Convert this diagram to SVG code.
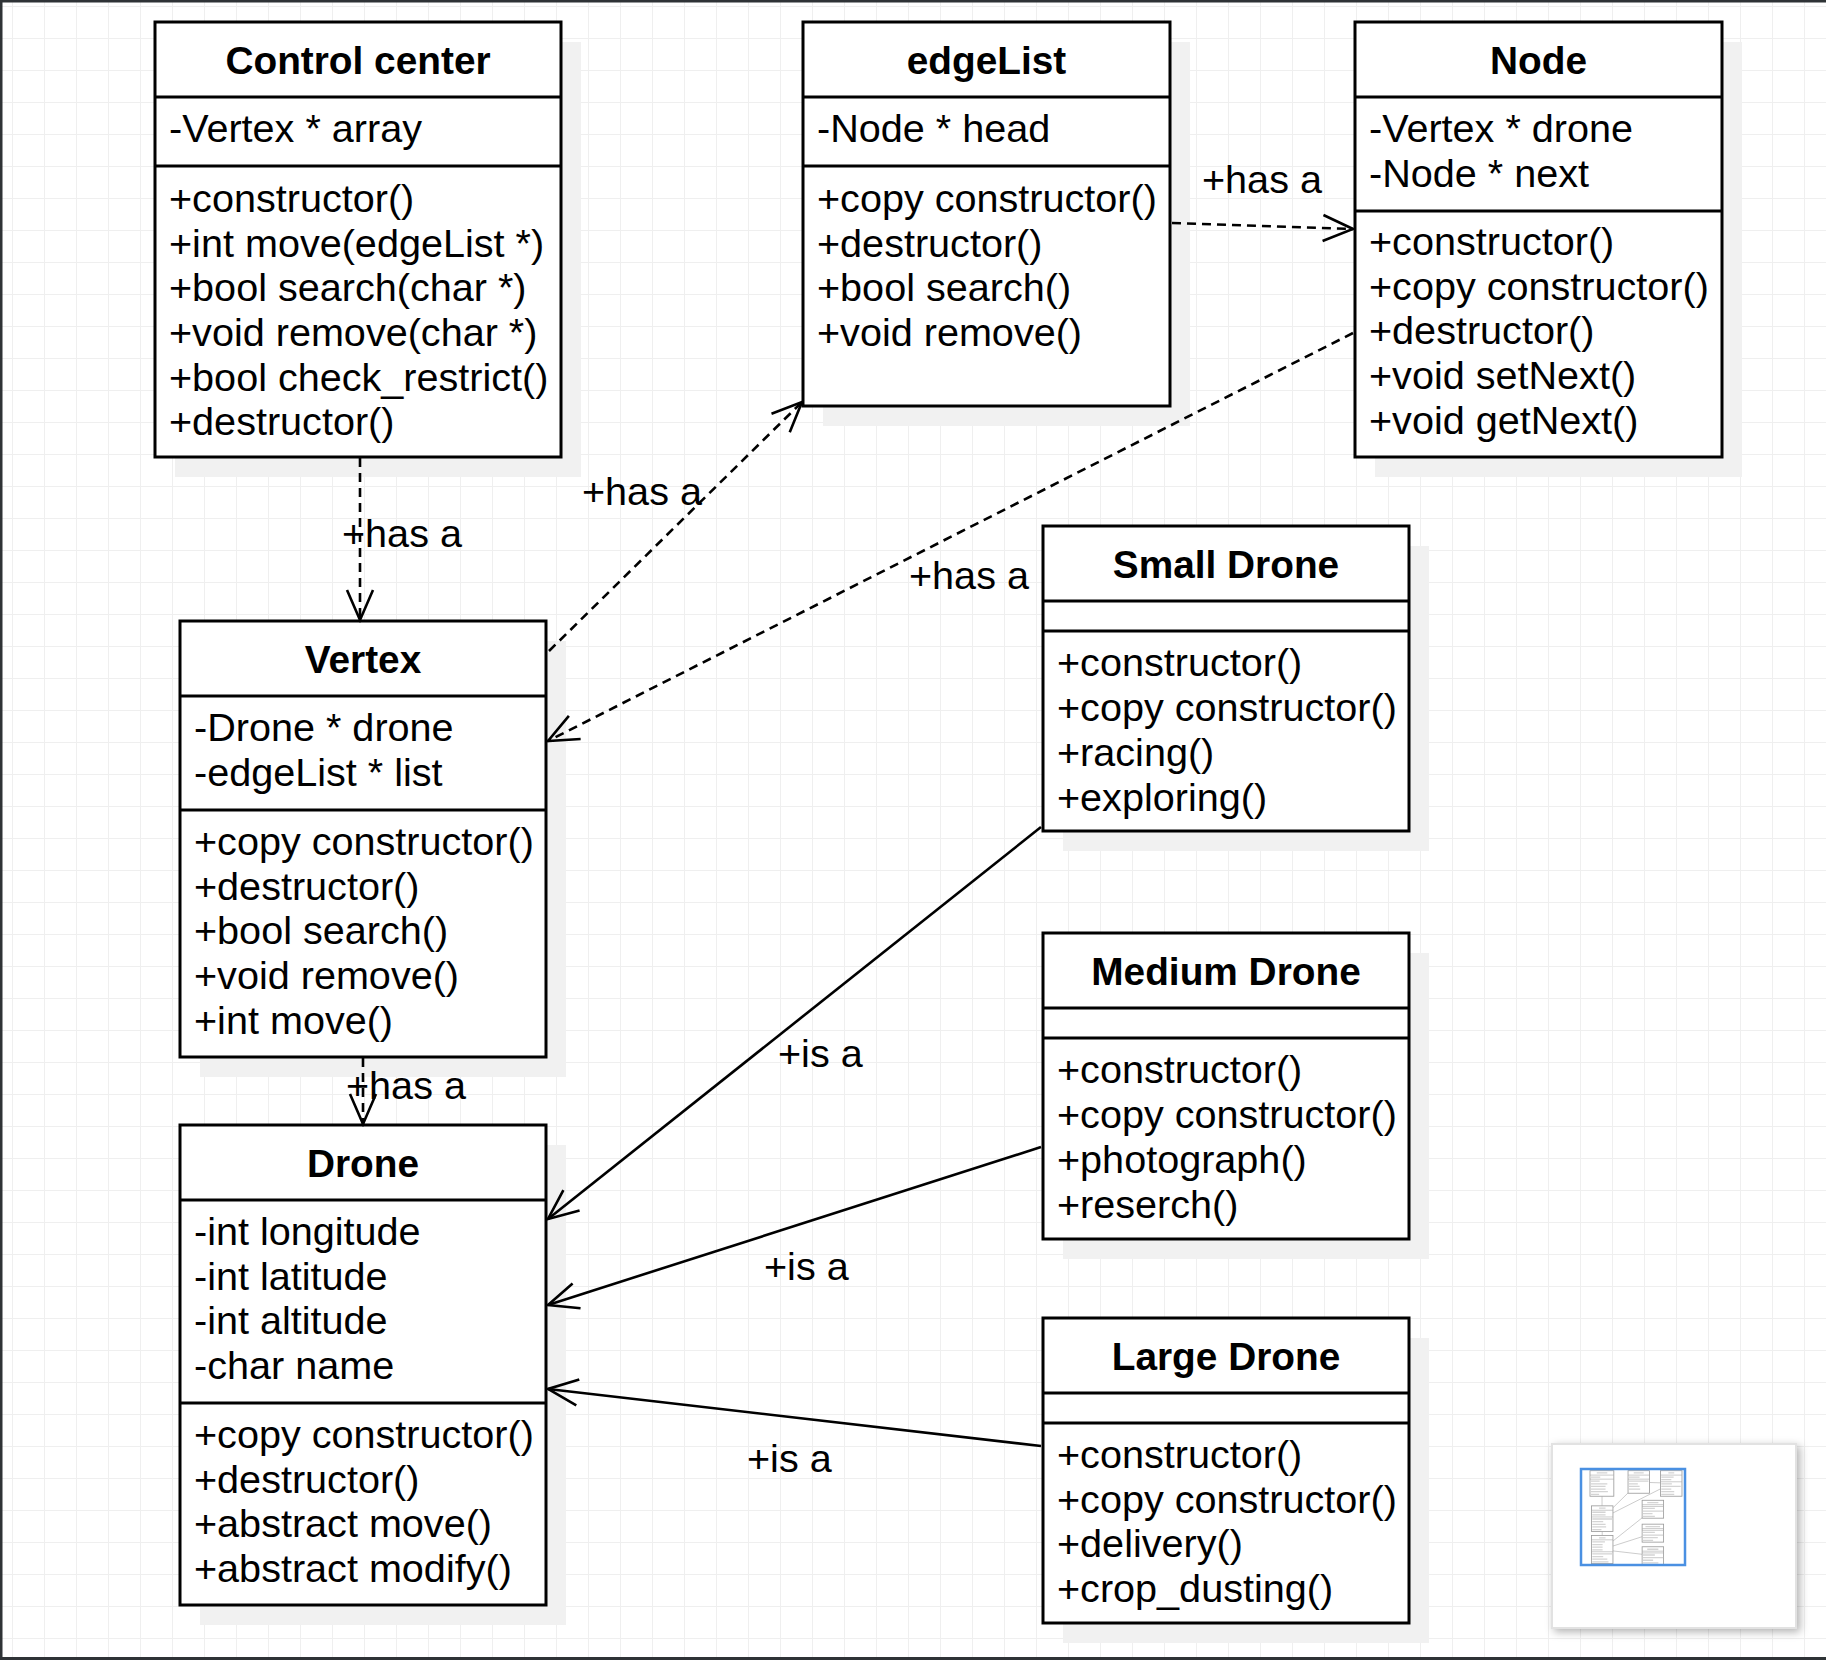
<svg xmlns="http://www.w3.org/2000/svg" width="1826" height="1660" viewBox="0 0 1826 1660">
<defs>
<style>
.shadow{fill:#f1f1f1}
.box{fill:#fff;stroke:#000;stroke-width:3}
.dv{stroke:#000;stroke-width:3}
.t{font-family:"Liberation Sans",Arial,Helvetica,sans-serif;font-size:39.6px;fill:#000}
.ttl{font-weight:bold;text-anchor:middle;font-size:38.8px}
.conn{fill:none;stroke:#000;stroke-width:2.6}
.dash{stroke-dasharray:9 6}
.tb{fill:#fff;stroke:#9a9a9a;stroke-width:14}
.tl{stroke:#a8a8a8;stroke-width:10;fill:none}
.tx{stroke:#d4d4d4;stroke-width:22}
</style>
<pattern id="grid" x="12" y="6" width="32" height="32" patternUnits="userSpaceOnUse">
<path d="M0.5 0V32M0 0.5H32" fill="none" stroke="#efefef" stroke-width="1"/>
</pattern>
<marker id="open" viewBox="-34 -16 37 32" refX="0" refY="0" markerWidth="37" markerHeight="32" markerUnits="userSpaceOnUse" orient="auto">
<path d="M-30 -13L0 0L-30 13" fill="none" stroke="#000" stroke-width="2.6" stroke-dasharray="none"/>
</marker>
<filter id="ps" x="-10%" y="-10%" width="130%" height="130%">
<feDropShadow dx="3" dy="3" stdDeviation="4" flood-color="#000" flood-opacity="0.3"/>
</filter>
</defs>

<rect width="1826" height="1660" fill="#fff"/>
<rect width="1826" height="1660" fill="url(#grid)"/>

<g id="node-control-center">
<rect class="shadow" x="175" y="42" width="406" height="435"/>
<rect class="box" x="155" y="22" width="406" height="435"/>
<line class="dv" x1="155" y1="97" x2="561" y2="97"/>
<line class="dv" x1="155" y1="166" x2="561" y2="166"/>
<text class="t ttl" x="358" y="74">Control center</text>
<text class="t" x="169" y="142">-Vertex * array</text>
<text class="t" x="169" y="212">+constructor()</text>
<text class="t" x="169" y="257">+int move(edgeList *)</text>
<text class="t" x="169" y="301">+bool search(char *)</text>
<text class="t" x="169" y="346">+void remove(char *)</text>
<text class="t" x="169" y="391">+bool check_restrict()</text>
<text class="t" x="169" y="435">+destructor()</text>
</g>

<g id="node-edgelist">
<rect class="shadow" x="823" y="42" width="367" height="384"/>
<rect class="box" x="803" y="22" width="367" height="384"/>
<line class="dv" x1="803" y1="97" x2="1170" y2="97"/>
<line class="dv" x1="803" y1="166" x2="1170" y2="166"/>
<text class="t ttl" x="986.5" y="74">edgeList</text>
<text class="t" x="817" y="142">-Node * head</text>
<text class="t" x="817" y="212">+copy constructor()</text>
<text class="t" x="817" y="257">+destructor()</text>
<text class="t" x="817" y="301">+bool search()</text>
<text class="t" x="817" y="346">+void remove()</text>
</g>

<g id="node-node">
<rect class="shadow" x="1375" y="42" width="367" height="435"/>
<rect class="box" x="1355" y="22" width="367" height="435"/>
<line class="dv" x1="1355" y1="97" x2="1722" y2="97"/>
<line class="dv" x1="1355" y1="211" x2="1722" y2="211"/>
<text class="t ttl" x="1538.5" y="74">Node</text>
<text class="t" x="1369" y="142">-Vertex * drone</text>
<text class="t" x="1369" y="187">-Node * next</text>
<text class="t" x="1369" y="255">+constructor()</text>
<text class="t" x="1369" y="300">+copy constructor()</text>
<text class="t" x="1369" y="344">+destructor()</text>
<text class="t" x="1369" y="389">+void setNext()</text>
<text class="t" x="1369" y="434">+void getNext()</text>
</g>

<g id="node-vertex">
<rect class="shadow" x="200" y="641" width="366" height="436"/>
<rect class="box" x="180" y="621" width="366" height="436"/>
<line class="dv" x1="180" y1="696" x2="546" y2="696"/>
<line class="dv" x1="180" y1="810" x2="546" y2="810"/>
<text class="t ttl" x="363" y="673">Vertex</text>
<text class="t" x="194" y="741">-Drone * drone</text>
<text class="t" x="194" y="786">-edgeList * list</text>
<text class="t" x="194" y="855">+copy constructor()</text>
<text class="t" x="194" y="900">+destructor()</text>
<text class="t" x="194" y="944">+bool search()</text>
<text class="t" x="194" y="989">+void remove()</text>
<text class="t" x="194" y="1034">+int move()</text>
</g>

<g id="node-drone">
<rect class="shadow" x="200" y="1145" width="366" height="480"/>
<rect class="box" x="180" y="1125" width="366" height="480"/>
<line class="dv" x1="180" y1="1200" x2="546" y2="1200"/>
<line class="dv" x1="180" y1="1403" x2="546" y2="1403"/>
<text class="t ttl" x="363" y="1177">Drone</text>
<text class="t" x="194" y="1245">-int longitude</text>
<text class="t" x="194" y="1290">-int latitude</text>
<text class="t" x="194" y="1334">-int altitude</text>
<text class="t" x="194" y="1379">-char name</text>
<text class="t" x="194" y="1448">+copy constructor()</text>
<text class="t" x="194" y="1493">+destructor()</text>
<text class="t" x="194" y="1537">+abstract move()</text>
<text class="t" x="194" y="1582">+abstract modify()</text>
</g>

<g id="node-small-drone">
<rect class="shadow" x="1063" y="546" width="366" height="305"/>
<rect class="box" x="1043" y="526" width="366" height="305"/>
<line class="dv" x1="1043" y1="601" x2="1409" y2="601"/>
<line class="dv" x1="1043" y1="631" x2="1409" y2="631"/>
<text class="t ttl" x="1226" y="578">Small Drone</text>
<text class="t" x="1057" y="676">+constructor()</text>
<text class="t" x="1057" y="721">+copy constructor()</text>
<text class="t" x="1057" y="766">+racing()</text>
<text class="t" x="1057" y="811">+exploring()</text>
</g>

<g id="node-medium-drone">
<rect class="shadow" x="1063" y="953" width="366" height="306"/>
<rect class="box" x="1043" y="933" width="366" height="306"/>
<line class="dv" x1="1043" y1="1008" x2="1409" y2="1008"/>
<line class="dv" x1="1043" y1="1038" x2="1409" y2="1038"/>
<text class="t ttl" x="1226" y="985">Medium Drone</text>
<text class="t" x="1057" y="1083">+constructor()</text>
<text class="t" x="1057" y="1128">+copy constructor()</text>
<text class="t" x="1057" y="1173">+photograph()</text>
<text class="t" x="1057" y="1218">+reserch()</text>
</g>

<g id="node-large-drone">
<rect class="shadow" x="1063" y="1338" width="366" height="305"/>
<rect class="box" x="1043" y="1318" width="366" height="305"/>
<line class="dv" x1="1043" y1="1393" x2="1409" y2="1393"/>
<line class="dv" x1="1043" y1="1423" x2="1409" y2="1423"/>
<text class="t ttl" x="1226" y="1370">Large Drone</text>
<text class="t" x="1057" y="1468">+constructor()</text>
<text class="t" x="1057" y="1513">+copy constructor()</text>
<text class="t" x="1057" y="1557">+delivery()</text>
<text class="t" x="1057" y="1602">+crop_dusting()</text>
</g>

<g id="connectors">
<line class="conn dash" x1="360" y1="458" x2="360" y2="620" marker-end="url(#open)"/>
<text class="t" x="342" y="547">+has a</text>
<line class="conn dash" x1="363" y1="1058" x2="363" y2="1124" marker-end="url(#open)"/>
<text class="t" x="346" y="1099">+has a</text>
<line class="conn dash" x1="549" y1="651" x2="802" y2="402" marker-end="url(#open)"/>
<text class="t" x="582" y="505">+has a</text>
<line class="conn dash" x1="1353" y1="333" x2="548" y2="741" marker-end="url(#open)"/>
<text class="t" x="909" y="589">+has a</text>
<line class="conn dash" x1="1172" y1="223" x2="1353" y2="229" marker-end="url(#open)"/>
<text class="t" x="1202" y="193">+has a</text>
<line class="conn" x1="1041" y1="827" x2="548" y2="1219" marker-end="url(#open)"/>
<text class="t" x="778" y="1067">+is a</text>
<line class="conn" x1="1041" y1="1147" x2="548" y2="1305" marker-end="url(#open)"/>
<text class="t" x="764" y="1280">+is a</text>
<line class="conn" x1="1041" y1="1446" x2="548" y2="1389" marker-end="url(#open)"/>
<text class="t" x="747" y="1472">+is a</text>
</g>

<g id="minimap">
<rect x="1552" y="1444" width="244" height="184" fill="#fff" stroke="#e2e2e2" stroke-width="2" filter="url(#ps)"/>
<g transform="translate(1580.9,1469.4) scale(0.0587)">
<line class="tl" x1="360" y1="458" x2="360" y2="620"/>
<line class="tl" x1="363" y1="1058" x2="363" y2="1124"/>
<line class="tl" x1="549" y1="651" x2="802" y2="402"/>
<line class="tl" x1="1353" y1="333" x2="548" y2="741"/>
<line class="tl" x1="1172" y1="223" x2="1353" y2="229"/>
<line class="tl" x1="1041" y1="827" x2="548" y2="1219"/>
<line class="tl" x1="1041" y1="1147" x2="548" y2="1305"/>
<line class="tl" x1="1041" y1="1446" x2="548" y2="1389"/>
<rect class="tb" x="155" y="22" width="406" height="435"/>
<rect class="tb" x="803" y="22" width="367" height="384"/>
<rect class="tb" x="1355" y="22" width="367" height="435"/>
<rect class="tb" x="180" y="621" width="366" height="436"/>
<rect class="tb" x="180" y="1125" width="366" height="480"/>
<rect class="tb" x="1043" y="526" width="366" height="305"/>
<rect class="tb" x="1043" y="933" width="366" height="306"/>
<rect class="tb" x="1043" y="1318" width="366" height="305"/>
<path class="tl" d="M155 97H561M155 166H561M803 97H1170M803 166H1170M1355 97H1722M1355 211H1722M180 696H546M180 810H546M180 1200H546M180 1403H546M1043 601H1409M1043 631H1409M1043 1008H1409M1043 1038H1409M1043 1393H1409M1043 1423H1409"/>
<path class="tx" d="M270 60H450M170 130H330M170 200H320M170 245H450M170 290H420M170 335H420M170 380H460M170 425H310M900 60H1070M817 130H1000M817 200H1150M817 245H970M817 290H1000M817 335H1010M1490 60H1590M1369 130H1580M1369 175H1540M1369 245H1550M1369 290H1700M1369 335H1540M1369 380H1590M1369 425H1590M310 660H420M194 730H420M194 775H420M194 845H530M194 890H380M194 935H420M194 980H430M194 1025H350M310 1165H420M194 1235H410M194 1280H370M194 1325H370M194 1370H370M194 1440H530M194 1485H380M194 1530H450M194 1575H470M1130 565H1320M1057 665H1260M1057 710H1400M1057 755H1220M1057 800H1260M1100 975H1350M1057 1073H1260M1057 1118H1400M1057 1163H1310M1057 1208H1230M1130 1360H1320M1057 1458H1260M1057 1503H1400M1057 1548H1230M1057 1593H1320"/>
</g>
<rect x="1581" y="1469" width="104" height="96" fill="none" stroke="#4a90e2" stroke-width="2.5"/>
</g>

<g id="frame">
<rect x="0" y="0" width="1826" height="2.5" fill="#2f3336"/>
<rect x="0" y="0" width="2.5" height="1660" fill="#2f3336"/>
<rect x="0" y="1657" width="1826" height="3" fill="#2f3336"/>
</g>
</svg>
